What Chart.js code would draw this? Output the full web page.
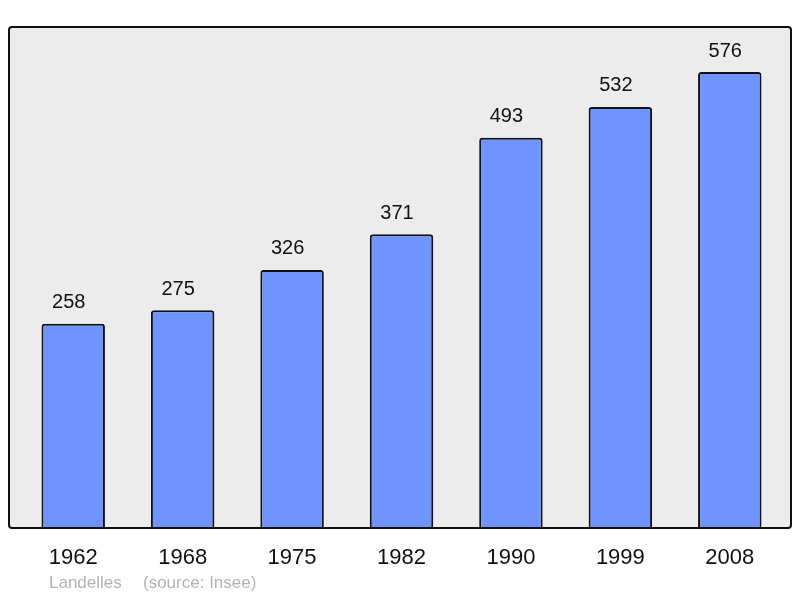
<!DOCTYPE html>
<html>
<head>
<meta charset="utf-8">
<script src="https://cdn.jsdelivr.net/npm/chart.js@4/dist/chart.umd.min.js"></script>
<style>
  html, body { margin: 0; padding: 0; background: #fff; }
  #wrap { width: 800px; height: 598px; }
</style>
</head>
<body>
<div id="wrap"><canvas id="myChart" width="800" height="598"></canvas></div>
<script>
var years = ['1962', '1968', '1975', '1982', '1990', '1999', '2008'];
var population = [258, 275, 326, 371, 493, 532, 576];
var placeName = 'Landelles';
var sourceText = '(source: Insee)';

var frame = {
    id: 'frame',
    beforeDraw: function(chart) {
        var c = chart.ctx;
        c.save();
        c.fillStyle = '#ececec';
        c.beginPath();
        c.roundRect(9, 27, 782, 501, 3);
        c.fill();
        c.restore();
    },
    afterDatasetsDraw: function(chart) {
        var c = chart.ctx;
        var meta = chart.getDatasetMeta(0);
        c.save();
        c.font = '20px "Liberation Sans", Arial, sans-serif';
        c.fillStyle = '#111';
        c.textAlign = 'center';
        c.textBaseline = 'middle';
        meta.data.forEach(function(bar, i) {
            c.fillText(String(population[i]), bar.x - 4.5, bar.y - 21);
        });
        c.restore();
    },
    afterDraw: function(chart) {
        var c = chart.ctx;
        c.save();
        c.strokeStyle = '#111';
        c.lineWidth = 2;
        c.beginPath();
        c.roundRect(9, 27, 782, 501, 3);
        c.stroke();
        c.font = '17px "Liberation Sans", Arial, sans-serif';
        c.fillStyle = '#b3b3b3';
        c.textBaseline = 'middle';
        c.fillText(placeName, 49, 583);
        c.fillText(sourceText, 143, 583);
        c.restore();
    }
};

var ctx = document.getElementById('myChart');
var myChart = new Chart(ctx, {
    type: 'bar',
    data: {
        labels: years,
        datasets: [{
            data: population,
            backgroundColor: '#7094ff',
            borderColor: '#111',
            borderWidth: 2,
            borderRadius: 3,
            barPercentage: 0.58,
            categoryPercentage: 1
        }]
    },
    options: {
        responsive: false,
        animation: false,
        layout: { padding: { left: 18.5, right: 15.5, top: 27, bottom: 0 } },
        plugins: {
            legend: { display: false },
            tooltip: { enabled: false }
        },
        scales: {
            y: {
                display: false,
                min: 0,
                max: 633
            },
            x: {
                grid: { display: false, drawTicks: false },
                border: { display: false },
                ticks: {
                    padding: 17,
                    color: '#111',
                    font: { size: 22, family: '"Liberation Sans", Arial, sans-serif' }
                },
                afterFit: function(scale) { scale.height = 70; }
            }
        }
    },
    plugins: [frame]
});
</script>
</body>
</html>
